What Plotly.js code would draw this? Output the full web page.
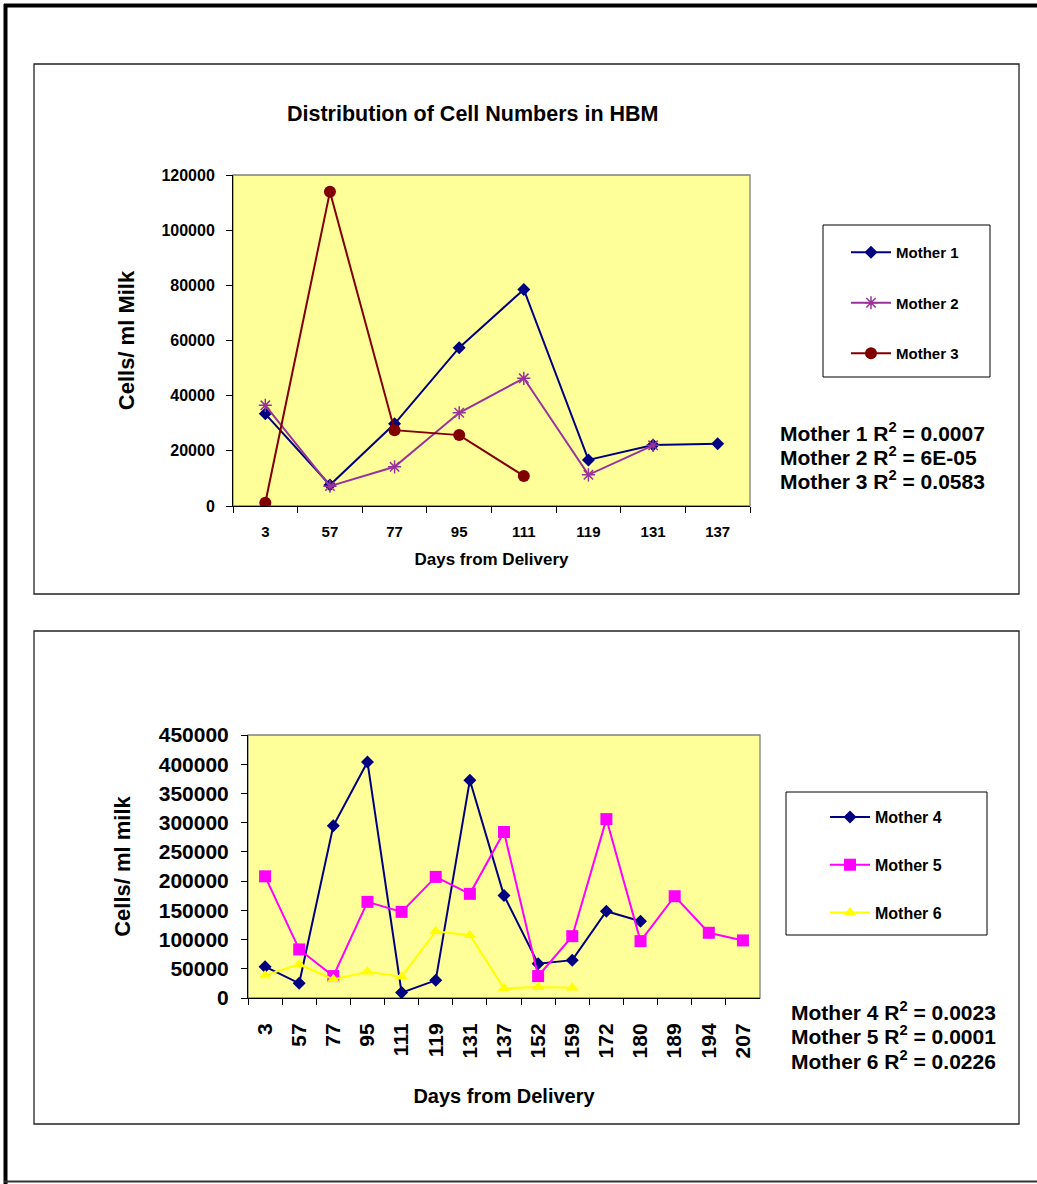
<!DOCTYPE html>
<html>
<head>
<meta charset="utf-8">
<script src="https://cdn.plot.ly/plotly-3.0.1.min.js"></script>
<style>
  html, body { margin: 0; padding: 0; background: #ffffff; }
  #chart { width: 1037px; height: 1184px; }
</style>
</head>
<body>
<div id="chart"></div>
<script>
// ---------- DATA ----------
const daysTop = ['3', '57', '77', '95', '111', '119', '131', '137'];
const mother1 = [33400, 7600, 29800, 57400, 78500, 16700, 22100, 22600];
const mother2 = [36500, 7200, 14200, 33800, 46300, 11300, 22000];
const mother3 = [1200, 113900, 27500, 25700, 10900];

const daysBottom = ['3', '57', '77', '95', '111', '119', '131', '137', '152', '159', '172', '180', '189', '194', '207'];
const mother4 = [53600, 25100, 294700, 403900, 9200, 30200, 372700, 175300, 58700, 64800, 148500, 131400];
const mother5 = [208200, 83100, 37500, 164500, 147400, 207200, 178200, 284000, 37500, 105800, 306100, 97300, 174100, 111600, 98500];
const mother6 = [38700, 57500, 31900, 45000, 36500, 114300, 107500, 16500, 18800, 17700];

const seriesNamesTop = ['Mother 1', 'Mother 2', 'Mother 3'];
const seriesNamesBottom = ['Mother 4', 'Mother 5', 'Mother 6'];
const r2Top = ['0.0007', '6E-05', '0.0583'];
const r2Bottom = ['0.0023', '0.0001', '0.0226'];

const chartTitle = 'Distribution of Cell Numbers in HBM';
const xTitle = 'Days from Delivery';
const yTitleTop = 'Cells/ ml Milk';
const yTitleBottom = 'Cells/ ml milk';

// ---------- LAYOUT HELPERS ----------
const W = 1037, H = 1184;
const px = v => v / W;
const py = v => 1 - v / H;
const FONT = 'Liberation Sans, Arial, sans-serif';
const bold = (size) => ({ family: FONT, size: size, color: '#000000', weight: 'bold' });

function trace(name, xs, ys, color, symbol, size, xa, ya, legend, extra) {
  const t = {
    type: 'scatter', mode: 'lines+markers', name: name,
    x: xs.slice(0, ys.length), y: ys,
    xaxis: xa, yaxis: ya, legend: legend, legendgroup: name,
    line: { color: color, width: 2 },
    marker: { symbol: symbol, size: size, color: color, line: { width: 0, color: color } },
    hoverinfo: 'x+y+name'
  };
  if (extra) extra(t);
  return t;
}

const data = [
  trace(seriesNamesTop[0], daysTop, mother1, '#000080', 'diamond', 10, 'x', 'y', 'legend'),
  trace(seriesNamesTop[1], daysTop, mother2, '#993399', 'asterisk-open', 11, 'x', 'y', 'legend',
        t => { t.marker.line = { width: 1.5, color: '#993399' }; }),
  trace(seriesNamesTop[2], daysTop, mother3, '#800000', 'circle', 12, 'x', 'y', 'legend'),
  trace(seriesNamesBottom[0], daysBottom, mother4, '#000080', 'diamond', 10, 'x2', 'y2', 'legend2'),
  trace(seriesNamesBottom[1], daysBottom, mother5, '#FF00FF', 'square', 12, 'x2', 'y2', 'legend2'),
  trace(seriesNamesBottom[2], daysBottom, mother6, '#FFFF00', 'triangle-up', 11, 'x2', 'y2', 'legend2')
];

const topPlot = { x0: 233, x1: 750, y0: 175, y1: 506 };
const botPlot = { x0: 248, x1: 760, y0: 735, y1: 998 };

const shapes = [
  // outer frame
  { type: 'line', xref: 'paper', yref: 'paper', x0: px(4), x1: px(1040), y0: py(5.5), y1: py(5.5), line: { color: '#000', width: 4 } },
  { type: 'line', xref: 'paper', yref: 'paper', x0: px(5.5), x1: px(5.5), y0: py(4), y1: py(1190), line: { color: '#000', width: 4 } },
  { type: 'line', xref: 'paper', yref: 'paper', x0: px(4), x1: px(1040), y0: py(1181.5), y1: py(1181.5), line: { color: '#333', width: 2 } },
  // panels
  { type: 'rect', xref: 'paper', yref: 'paper', x0: px(34), x1: px(1019), y0: py(64), y1: py(594), line: { color: '#222', width: 1.3 } },
  { type: 'rect', xref: 'paper', yref: 'paper', x0: px(34), x1: px(1019), y0: py(631), y1: py(1124), line: { color: '#222', width: 1.3 } },
  // plot area borders
  { type: 'rect', xref: 'x domain', yref: 'y domain', x0: 0, x1: 1, y0: 0, y1: 1, line: { color: '#808080', width: 1.3 }, layer: 'below' },
  { type: 'rect', xref: 'x2 domain', yref: 'y2 domain', x0: 0, x1: 1, y0: 0, y1: 1, line: { color: '#808080', width: 1.3 }, layer: 'below' },
  // legend boxes
  { type: 'rect', xref: 'paper', yref: 'paper', x0: px(823), x1: px(990), y0: py(225), y1: py(377), line: { color: '#000', width: 1 } },
  { type: 'rect', xref: 'paper', yref: 'paper', x0: px(786), x1: px(987), y0: py(792), y1: py(935), line: { color: '#000', width: 1 } }
];

const annotations = [];
const r2TopY = [432, 456, 480];
const r2BotY = [1011, 1035, 1060];
for (let i = 0; i < 3; i++) {
  annotations.push({
    xref: 'paper', yref: 'paper', x: px(778), y: py(r2TopY[i]), xanchor: 'left', yanchor: 'middle',
    text: seriesNamesTop[i] + ' R<sup>2</sup> = ' + r2Top[i], showarrow: false, font: bold(21)
  });
  annotations.push({
    xref: 'paper', yref: 'paper', x: px(789), y: py(r2BotY[i]), xanchor: 'left', yanchor: 'middle',
    text: seriesNamesBottom[i] + ' R<sup>2</sup> = ' + r2Bottom[i], showarrow: false, font: bold(21)
  });
}
annotations.push({
  xref: 'paper', yref: 'paper', x: px(472), y: py(114), xanchor: 'center', yanchor: 'middle',
  text: chartTitle, showarrow: false, font: bold(21.5)
});

const layout = {
  width: W, height: H,
  margin: { l: 0, r: 0, t: 0, b: 0 },
  paper_bgcolor: '#ffffff',
  plot_bgcolor: '#FFFF99',
  showlegend: true,
  xaxis: {
    type: 'category', domain: [px(topPlot.x0), px(topPlot.x1)], anchor: 'y',
    range: [-0.5, daysTop.length - 0.5], tickson: 'boundaries',
    ticks: 'outside', ticklen: 6, tickcolor: '#000', showline: true, linecolor: '#000', linewidth: 1,
    showgrid: false, zeroline: false, tickfont: bold(15), ticklabelstandoff: 12,
    title: { text: xTitle, font: bold(17), standoff: 14 }
  },
  yaxis: {
    domain: [py(topPlot.y1), py(topPlot.y0)], anchor: 'x',
    range: [0, 120000], dtick: 20000, tickformat: 'd',
    ticks: 'outside', ticklen: 6, tickcolor: '#000', showline: true, linecolor: '#000', linewidth: 1,
    showgrid: false, zeroline: false, tickfont: bold(16), ticklabelstandoff: 8,
    title: { text: yTitleTop, font: bold(22), standoff: 20 }
  },
  xaxis2: {
    type: 'category', domain: [px(botPlot.x0), px(botPlot.x1)], anchor: 'y2',
    range: [-0.5, daysBottom.length - 0.5], tickson: 'boundaries', tickangle: -90,
    ticks: 'outside', ticklen: 6, tickcolor: '#000', showline: true, linecolor: '#000', linewidth: 1,
    showgrid: false, zeroline: false, tickfont: bold(21), ticklabelstandoff: 16,
    title: { text: xTitle, font: bold(20), standoff: 31 }
  },
  yaxis2: {
    domain: [py(botPlot.y1), py(botPlot.y0)], anchor: 'x2',
    range: [0, 450000], dtick: 50000, tickformat: 'd',
    ticks: 'outside', ticklen: 6, tickcolor: '#000', showline: true, linecolor: '#000', linewidth: 1,
    showgrid: false, zeroline: false, tickfont: bold(21), ticklabelstandoff: 8,
    title: { text: yTitleBottom, font: bold(22), standoff: 22 }
  },
  legend: {
    x: px(846), y: py(236), xanchor: 'left', yanchor: 'top',
    bgcolor: 'rgba(0,0,0,0)', borderwidth: 0, font: bold(15), itemwidth: 40,
    traceorder: 'grouped', tracegroupgap: 28, itemclick: false
  },
  legend2: {
    x: px(825), y: py(800), xanchor: 'left', yanchor: 'top',
    bgcolor: 'rgba(0,0,0,0)', borderwidth: 0, font: bold(16), itemwidth: 40,
    traceorder: 'grouped', tracegroupgap: 24, itemclick: false
  },
  shapes: shapes,
  annotations: annotations
};

Plotly.newPlot('chart', data, layout, { displayModeBar: false, staticPlot: true });
</script>
</body>
</html>
